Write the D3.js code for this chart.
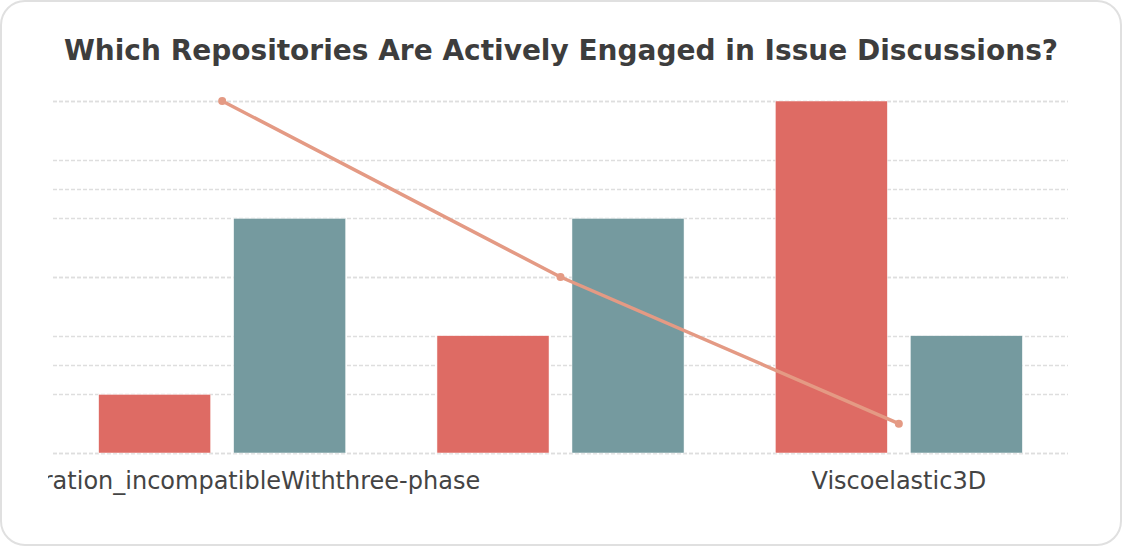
<!DOCTYPE html>
<html>
<head>
<meta charset="utf-8">
<script src="https://cdn.jsdelivr.net/npm/d3@7"></script>
<style>
  html, body { margin: 0; padding: 0; background: #fff; }
  svg { display: block; }
</style>
</head>
<body>
<svg id="chart" width="1122" height="546"></svg>
<script>
const categories = ["Acceleration_incompatibleWiththree-phase", "PoroelasticSolver", "Viscoelastic3D"];
const shownLabels = [true, false, true];
const seriesNames = ["Open issues", "Closed issues"];
const redValues = [1, 2, 6];
const tealValues = [4, 4, 2];
const lineValues = [12, 6, 1];
const leftTicks = [0, 1, 2, 3, 4, 5, 6];
const rightTicks = [0, 3, 6, 9, 12];

const W = 1122, H = 546;
const m = { left: 53, right: 1068, top: 101, bottom: 453 };
const svg = d3.select("#chart");

svg.append("rect").attr("x", 1).attr("y", 1).attr("width", W - 2).attr("height", H - 2)
  .attr("rx", 24).attr("ry", 24).attr("fill", "#fff").attr("stroke", "#e0e0e0").attr("stroke-width", 2);

svg.append("text").attr("x", 561).attr("y", 60).attr("text-anchor", "middle")
  .attr("font-family", "DejaVu Sans, sans-serif").attr("font-weight", "bold").attr("font-size", 28)
  .attr("fill", "#3d3d3d").text("Which Repositories Are Actively Engaged in Issue Discussions?");

const x0 = d3.scaleBand().domain(categories).range([m.left, m.right]).padding(0);
const x1 = d3.scaleBand().domain(seriesNames).range([0, x0.bandwidth()]).paddingInner(0.17).paddingOuter(0.338);
const yL = d3.scaleLinear().domain([0, 6]).range([m.bottom, m.top]);
const yR = d3.scaleLinear().domain([0, 12]).range([m.bottom, m.top]);

const grid = svg.append("g");
const drawGrid = (scale, ticks) => {
  grid.selectAll(null).data(ticks).enter().append("line")
    .attr("x1", m.left).attr("x2", m.right)
    .attr("y1", d => Math.round(scale(d)) + 0.5).attr("y2", d => Math.round(scale(d)) + 0.5)
    .attr("stroke", "#dedede").attr("stroke-width", 1.3).attr("stroke-dasharray", "4,2");
};
drawGrid(yL, leftTicks);
drawGrid(yR, rightTicks);

const colors = ["#de6b64", "#759a9f"];
const seriesData = [redValues, tealValues];
seriesData.forEach((vals, si) => {
  svg.append("g").selectAll("rect").data(vals).enter().append("rect")
    .attr("x", (d, i) => x0(categories[i]) + x1(seriesNames[si]))
    .attr("width", x1.bandwidth())
    .attr("y", d => yL(d))
    .attr("height", d => yL(0) - yL(d))
    .attr("fill", colors[si])
    .attr("stroke", "#fff").attr("stroke-width", 0.5);
});

const cx = c => x0(c) + x0.bandwidth() / 2;
const line = d3.line().x((d, i) => cx(categories[i])).y(d => yR(d));
svg.append("path").datum(lineValues).attr("d", line)
  .attr("fill", "none").attr("stroke", "#e49a84").attr("stroke-width", 3.5);
svg.append("g").selectAll("circle").data(lineValues).enter().append("circle")
  .attr("cx", (d, i) => cx(categories[i])).attr("cy", d => yR(d)).attr("r", 4)
  .attr("fill", "#e49a84");

svg.append("clipPath").attr("id", "lblclip").append("rect")
  .attr("x", 48).attr("y", 455).attr("width", 1026).attr("height", 60);

const xAxis = d3.axisBottom(x0).tickSize(0).tickPadding(0)
  .tickFormat((d, i) => shownLabels[i] ? d : "");
const clipG = svg.append("g").attr("clip-path", "url(#lblclip)");
const ax = clipG.append("g").attr("transform", `translate(0,${m.bottom})`).call(xAxis);
ax.select(".domain").remove();
ax.selectAll("text").attr("y", 36).attr("dy", 0)
  .attr("font-family", "DejaVu Sans, sans-serif").attr("font-size", 24).attr("fill", "#444");
</script>
</body>
</html>
